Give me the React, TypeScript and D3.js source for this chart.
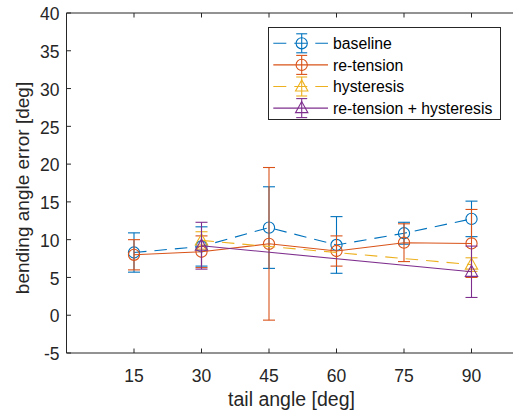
import React from "react";
import * as d3 from "d3";

const xTicks = [15, 30, 45, 60, 75, 90];
const yTicks = [-5, 0, 5, 10, 15, 20, 25, 30, 35, 40];

const baselineX = [15, 30, 45, 60, 75, 90];
const baselineY = [8.3, 9.1, 11.6, 9.3, 10.85, 12.75];
const baselineE = [2.6, 2.6, 5.4, 3.75, 1.45, 2.35];

const retensionX = [15, 30, 45, 60, 75, 90];
const retensionY = [8.0, 8.4, 9.45, 8.5, 9.6, 9.5];
const retensionE = [2.0, 2.1, 10.1, 2.0, 2.5, 4.5];

const hysteresisX = [30, 90];
const hysteresisY = [9.9, 6.7];
const hysteresisE = [1.15, 0.9];

const bothX = [30, 90];
const bothY = [9.2, 5.75];
const bothE = [3.1, 3.4];

const seriesNames = ["baseline", "re-tension", "hysteresis", "re-tension + hysteresis"];

type S = { name: string; x: number[]; y: number[]; e: number[]; color: string; dash: boolean; marker: "o" | "^" };

const series: S[] = [
  { name: seriesNames[0], x: baselineX, y: baselineY, e: baselineE, color: "#0072BD", dash: true, marker: "o" },
  { name: seriesNames[1], x: retensionX, y: retensionY, e: retensionE, color: "#D95319", dash: false, marker: "o" },
  { name: seriesNames[2], x: hysteresisX, y: hysteresisY, e: hysteresisE, color: "#EDB120", dash: true, marker: "^" },
  { name: seriesNames[3], x: bothX, y: bothY, e: bothE, color: "#7E2F8E", dash: false, marker: "^" },
];

const W = 513, H = 415;
const L = 66.5, R = 516.5, T = 13, B = 353;
const axisColor = "#262626";
const font = "'Liberation Sans', Arial, Helvetica, sans-serif";

function Marker({ type, cx, cy, color }: { type: "o" | "^"; cx: number; cy: number; color: string }) {
  if (type === "o") return <circle cx={cx} cy={cy} r={5.6} fill="none" stroke={color} strokeWidth={1.1} />;
  const s = 6.5;
  const pts = `${cx},${cy - s} ${cx - s * 0.95},${cy + s * 0.7} ${cx + s * 0.95},${cy + s * 0.7}`;
  return <polygon points={pts} fill="none" stroke={color} strokeWidth={1.1} />;
}

export default function App() {
  const x = d3.scaleLinear().domain([0, 100]).range([L, R]);
  const y = d3.scaleLinear().domain([-5, 40]).range([B, T]);
  const cap = 6;
  const legendX = 268.5, legendY = 27.5, legendW = 232, legendH = 92;
  const rowY = (i: number) => 43.3 + i * 21.6;

  return (
    <svg width={W} height={H} style={{ position: "absolute", left: 0, top: 0, fontFamily: font }}>
      <rect x={0} y={0} width={W} height={H} fill="#fff" />
      {/* axes box */}
      <line x1={L} y1={T} x2={R} y2={T} stroke={axisColor} strokeWidth={1} />
      <line x1={L} y1={B} x2={R} y2={B} stroke={axisColor} strokeWidth={1} />
      <line x1={L} y1={T} x2={L} y2={B} stroke={axisColor} strokeWidth={1} />
      {xTicks.map((t) => (
        <g key={"xt" + t}>
          <line x1={x(t)} x2={x(t)} y1={B} y2={B - 4.5} stroke={axisColor} />
          <line x1={x(t)} x2={x(t)} y1={T} y2={T + 4.5} stroke={axisColor} />
          <text x={x(t)} y={382} textAnchor="middle" fontSize={17.5} fill={axisColor}>{t}</text>
        </g>
      ))}
      {yTicks.map((t) => (
        <g key={"yt" + t}>
          <line x1={L} x2={L + 4.5} y1={y(t)} y2={y(t)} stroke={axisColor} />
          <text x={59.5} y={y(t) + 7.2} textAnchor="end" fontSize={17.5} fill={axisColor}>{t}</text>
        </g>
      ))}
      <text x={(L + R) / 2} y={406} textAnchor="middle" fontSize={19.5} fill={axisColor}>tail angle [deg]</text>
      <text transform={`translate(29,${(T + B) / 2 + 5}) rotate(-90)`} textAnchor="middle" fontSize={19} fill={axisColor}>bending angle error [deg]</text>

      {/* series */}
      {series.map((s) => {
        const line = d3.line<number>().x((_, i) => x(s.x[i])).y((v) => y(v));
        return (
          <g key={s.name}>
            <path d={line(s.y) || ""} fill="none" stroke={s.color} strokeWidth={1.1} strokeDasharray={s.dash ? "12.5,8" : undefined} />
            {s.y.map((v, i) => {
              const cx = x(s.x[i]);
              const y1 = y(v + s.e[i]), y2 = y(v - s.e[i]);
              return (
                <g key={i}>
                  <line x1={cx} x2={cx} y1={y1} y2={y2} stroke={s.color} strokeWidth={1.1} />
                  <line x1={cx - cap} x2={cx + cap} y1={y1} y2={y1} stroke={s.color} strokeWidth={1.1} />
                  <line x1={cx - cap} x2={cx + cap} y1={y2} y2={y2} stroke={s.color} strokeWidth={1.1} />
                  <Marker type={s.marker} cx={cx} cy={y(v)} color={s.color} />
                </g>
              );
            })}
          </g>
        );
      })}

      {/* legend */}
      <rect x={legendX} y={legendY} width={legendW} height={legendH} fill="#fff" stroke={axisColor} strokeWidth={1} />
      {series.map((s, i) => {
        const ry = rowY(i);
        const mx = 301.7;
        return (
          <g key={"lg" + s.name}>
            <line x1={273.3} x2={328} y1={ry} y2={ry} stroke={s.color} strokeWidth={1.1} strokeDasharray={s.dash ? "13,8" : undefined} />
            <line x1={mx} x2={mx} y1={ry - 9.5} y2={ry + 9.5} stroke={s.color} strokeWidth={1.1} />
            <line x1={mx - 5.5} x2={mx + 5.5} y1={ry - 9.5} y2={ry - 9.5} stroke={s.color} strokeWidth={1.1} />
            <line x1={mx - 5.5} x2={mx + 5.5} y1={ry + 9.5} y2={ry + 9.5} stroke={s.color} strokeWidth={1.1} />
            <Marker type={s.marker} cx={mx} cy={ry} color={s.color} />
            <text x={333} y={ry + 5.6} fontSize={15.8} fill="#000">{s.name}</text>
          </g>
        );
      })}
    </svg>
  );
}
